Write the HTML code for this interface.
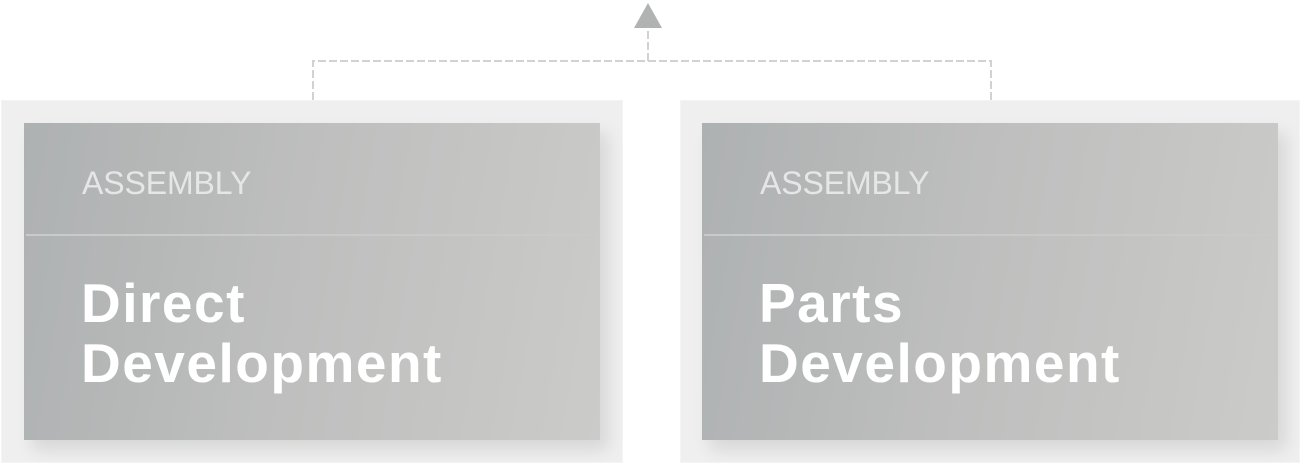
<!DOCTYPE html>
<html><head><style>
html,body{margin:0;padding:0;background:#fff;width:1302px;height:465px;overflow:hidden;position:relative;font-family:"Liberation Sans",sans-serif}
.outer{position:absolute;top:100px;height:363px;background:#efefef;border:1px solid #f4f4f4;box-sizing:border-box}
.inner{position:absolute;top:123px;height:317px;background:linear-gradient(100deg,#aeb1b2 0%,#bdbebd 45%,#cbcbc9 100%);box-shadow:8px 10px 16px rgba(0,0,0,0.10)}
.div{position:absolute;top:111px;left:2px;right:0;height:2px;background:#c9cbcb}
.lab{position:absolute;left:58px;top:42px;font-size:32px;color:#e6e6e6;letter-spacing:-0.1px}
.title{position:absolute;left:57px;top:150px;font-size:55px;font-weight:bold;color:#fff;line-height:60px;letter-spacing:1.5px}
</style></head><body>
<svg width="1302" height="465" style="position:absolute;left:0;top:0">
<polyline points="313,100 313,61 991,61 991,100" fill="none" stroke="#d2d2d2" stroke-width="2" stroke-dasharray="8,3"/>
<line x1="648" y1="61" x2="648" y2="29" stroke="#d2d2d2" stroke-width="2" stroke-dasharray="8,3"/>
<polygon points="648,3 634,28 662,28" fill="#b1b3b3"/>
</svg>
<div class="outer" style="left:1px;width:622px"></div>
<div class="outer" style="left:680px;width:620px"></div>
<div class="inner" style="left:24px;width:576px">
<div class="div"></div>
<div class="lab">ASSEMBLY</div>
<div class="title">Direct<br>Development</div>
</div>
<div class="inner" style="left:702px;width:576px">
<div class="div"></div>
<div class="lab">ASSEMBLY</div>
<div class="title">Parts<br>Development</div>
</div>
</body></html>
